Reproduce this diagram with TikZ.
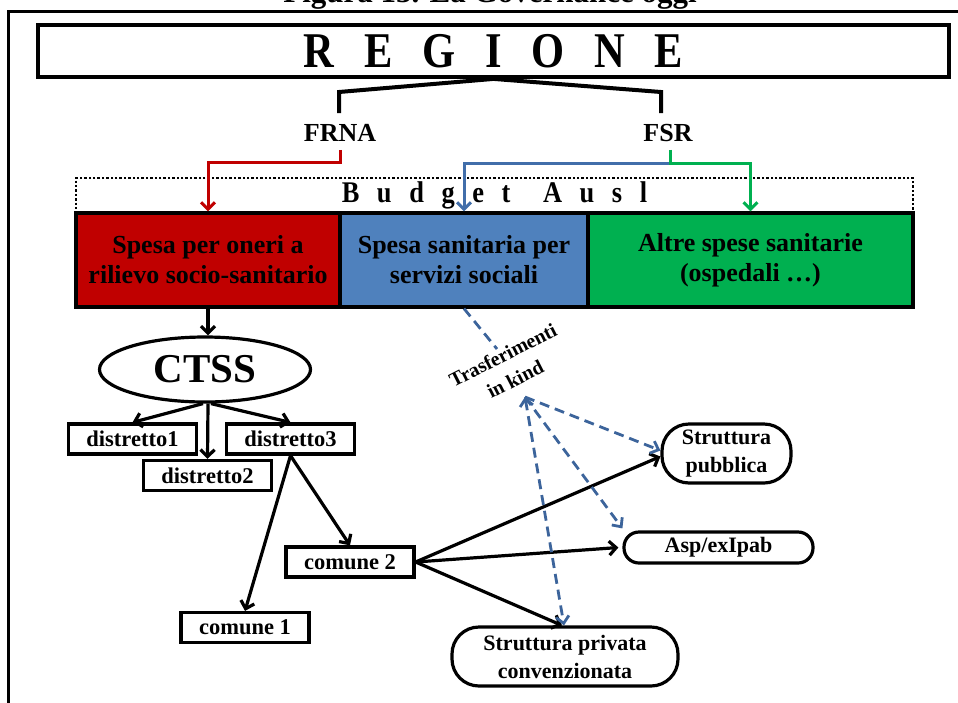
\documentclass[tikz,border=0pt]{standalone}
\usepackage{fontspec}
\usepackage{graphicx}
\setmainfont{Liberation Serif}
\usetikzlibrary{arrows.meta,shapes.geometric}

\definecolor{fundred}{RGB}{192,0,0}
\definecolor{fundblue}{RGB}{79,129,189}
\definecolor{fundgreen}{RGB}{0,176,80}
\definecolor{kindblue}{RGB}{60,100,155}
\definecolor{arrblue}{RGB}{65,110,170}

\tikzset{
  every node/.style={inner sep=0pt, font=\bfseries},
  tbox/.style={draw, line width=3.2pt, minimum width=128pt, minimum height=30pt,
    font=\bfseries\fontsize{22.5}{24}\selectfont},
  pill/.style={draw, line width=3.2pt, align=center,
    font=\bfseries\fontsize{22}{28}\selectfont},
  fund/.style={draw, line width=3.2pt, minimum height=94pt, align=center,
    font=\bfseries\fontsize{26}{30}\selectfont},
  lbl/.style={font=\bfseries\fontsize{26}{28}\selectfont},
  tipbarb/.style={-{Straight Barb[length=7pt,width=14pt]}},
  arr/.style={line width=3.2pt, tipbarb},
  flow/.style={line width=3pt, tipbarb},
  kind/.style={kindblue, line width=2.8pt, dash pattern=on 10pt off 6pt},
  kindarr/.style={kind, -{Straight Barb[length=7pt,width=13pt]}}
}

\begin{document}
\begin{tikzpicture}[x=1pt,y=-1pt]
\useasboundingbox (0,0) rectangle (958,702);
\clip (0,0) rectangle (958,702);

% caption and outer frame
\node[anchor=base, font=\bfseries\fontsize{31}{34}\selectfont] (caption) at (490,2) {Figura 13. La Governance oggi};
\draw[line width=3pt] (970,11) -- (8,11) -- (8,720);

% REGIONE
\node[draw, line width=3.8pt, minimum width=911pt, minimum height=52pt,
  font=\bfseries\fontsize{50}{50}\selectfont] (regione) at (493.5,51)
  {\scalebox{0.85}[1]{R\hspace{35pt}E\hspace{35pt}G\hspace{35pt}I\hspace{35pt}O\hspace{35pt}N\hspace{35pt}E}};

\coordinate (bl) at (339,92);
\coordinate (br) at (661,92);
\coordinate (blend) at (339,113);
\coordinate (brend) at (661,113);
\draw[line width=4pt] (blend) -- (bl) -- (regione.south) -- (br) -- (brend);

\node[lbl] (frna) at (340,133) {FRNA};
\node[lbl] (fsr) at (668,133) {FSR};

% Budget Ausl
\node[draw, dotted, line width=2.4pt, minimum width=837pt, minimum height=35pt,
  font=\bfseries\fontsize{30}{30}\selectfont] (budget) at (494.5,195.5)
  {\scalebox{0.88}[1]{B\hspace{20pt}u\hspace{20pt}d\hspace{20pt}g\hspace{20pt}e\hspace{20pt}t\hspace{37pt}A\hspace{20pt}u\hspace{20pt}s\hspace{20pt}l}};

\node[fund, fill=fundred, minimum width=264pt] (r1) at (208,260) {Spesa per oneri a\\rilievo socio-sanitario};
\node[fund, fill=fundblue, minimum width=248pt] (r2) at (464,260) {Spesa sanitaria per\\servizi sociali};
\node[fund, fill=fundgreen, minimum width=325pt] (r3) at (750.5,260) {Altre spese sanitarie\\(ospedali \dots)};

% funding flows
\draw[flow, fundred] ([yshift=-8pt]frna.south) -- ++(0,13) -| (r1.north);
\draw[flow, arrblue] ([yshift=-8pt]fsr.south) ++(2,0) -- ++(0,14) -| (r2.north);
\draw[flow, fundgreen] ([yshift=-8pt]fsr.south) ++(2,0) -- ++(0,14) -| (r3.north);

% CTSS and districts
\node[draw, ellipse, line width=3.2pt, minimum width=211pt, minimum height=65pt,
  font=\bfseries\fontsize{41}{41}\selectfont] (ctss) at (205,369.5) {CTSS};
\draw[arr] (r1.south) -- (r1.south |- ctss.north);

\node[tbox] (d1) at (132.5,439) {distretto1};
\node[tbox] (d2) at (207.5,475.5) {distretto2};
\node[tbox] (d3) at (290.5,439) {distretto3};
\draw[arr] ([xshift=-2pt]ctss.south) -- (d1.north);
\draw[arr] ([xshift=3pt]ctss.south) -- (d2.north);
\draw[arr] ([xshift=6pt]ctss.south) -- (d3.north);

\node[tbox] (c2) at (350,562) {comune 2};
\node[tbox] (c1) at (245,627.5) {comune 1};
\draw[arr] (d3.south) -- (c1.north);
\draw[arr] (d3.south) -- (c2.north);

% service providers
\node[pill, rounded corners=27pt, minimum width=129pt, minimum height=59pt] (pub) at (726.5,453.5) {Struttura\\pubblica};
\node[pill, rounded corners=15pt, minimum width=189pt, minimum height=31pt] (asp) at (718.5,547.5) {Asp/exIpab};
\node[pill, rounded corners=27pt, minimum width=226pt, minimum height=59pt] (priv) at (565,656.5) {Struttura privata\\convenzionata};

\draw[arr] (c2.east) -- ([yshift=-3pt]pub.west);
\draw[arr] (c2.east) -- ([xshift=-4pt]asp.west);
\draw[arr] (c2.east) -- ([xshift=-3pt]priv.north);

% transfers in kind
\coordinate (kindtop) at (497,349);
\coordinate (kindpt) at (525,397);
\draw[kind] (r2.south) -- (kindtop);
\node[rotate=27, align=center, font=\bfseries\fontsize{20}{27}\selectfont] (kindlbl) at (509,367) {Trasferimenti\\in kind};
\draw[kindarr] (kindpt) -- ([yshift=3pt]pub.west);
\draw[kindarr] (kindpt) -- ([yshift=2pt]asp.north west);
\draw[kind, {Straight Barb[length=7pt,width=13pt]}-{Straight Barb[length=7pt,width=13pt]}] (kindpt) -- ([xshift=-1pt]priv.north);

\end{tikzpicture}
\end{document}
